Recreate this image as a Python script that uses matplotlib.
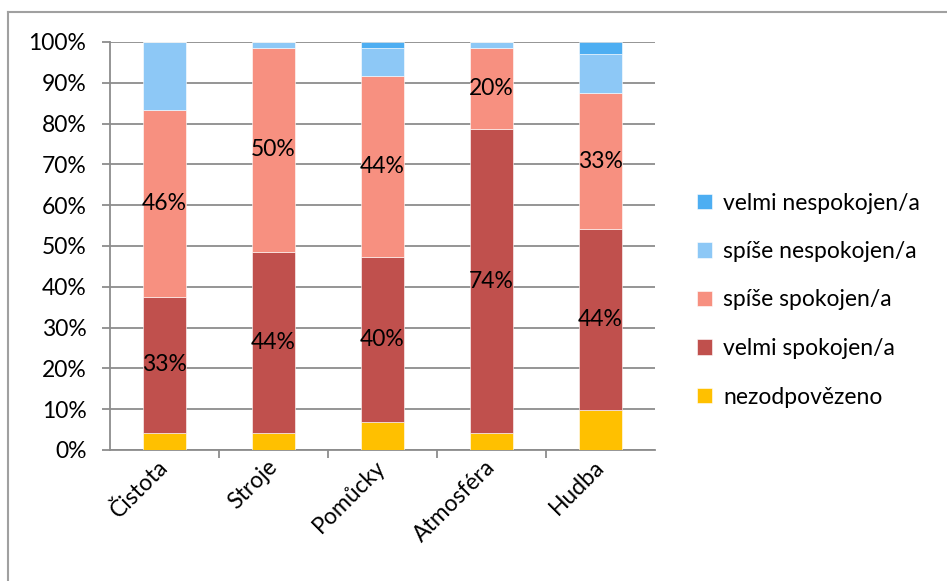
import numpy as np
import matplotlib
matplotlib.use("Agg")
import matplotlib.pyplot as plt
from matplotlib.lines import Line2D

plt.rcParams['font.family'] = ['Lato', 'DejaVu Sans']

categories = ['Čistota', 'Stroje', 'Pomůcky', 'Atmosféra', 'Hudba']
series_names = ['nezodpovězeno', 'velmi spokojen/a', 'spíše spokojen/a',
                'spíše nespokojen/a', 'velmi nespokojen/a']
nezodpovezeno = [4.2, 4.2, 6.9, 4.2, 9.7]
velmi_spokojen = [33.3, 44.4, 40.3, 74.4, 44.4]
spise_spokojen = [45.8, 50.0, 44.4, 20.0, 33.3]
spise_nespokojen = [16.7, 1.4, 6.9, 1.4, 9.7]
velmi_nespokojen = [0.0, 0.0, 1.5, 0.0, 2.9]
colors = ['#ffc000', '#c0504d', '#f79080', '#8dc8f6', '#4daef2']
labelled = [1, 2]  # series that carry value labels

data = [nezodpovezeno, velmi_spokojen, spise_spokojen, spise_nespokojen, velmi_nespokojen]
fs = 16.5

fig = plt.figure(figsize=(9.47, 5.81), dpi=100)
ax = fig.add_axes([110 / 947, 1 - 450 / 581, 545 / 947, 408 / 581])

x = np.arange(len(categories))
bottom = np.zeros(len(categories))
handles = []
for i, (name, vals) in enumerate(zip(series_names, data)):
    vals = np.array(vals)
    bars = ax.bar(x, vals, 0.4, bottom=bottom, color=colors[i],
                  edgecolor='white', linewidth=0.4, label=name, zorder=3)
    handles.append(bars)
    if i in labelled:
        for xi, v, b in zip(x, vals, bottom):
            ax.text(xi, b + v / 2, f'{v:.0f}%', ha='center', va='center',
                    fontsize=fs, color='black', zorder=4)
    bottom += vals

ax.set_xlim(-0.5, len(categories) - 0.5)
ax.set_ylim(0, 100)
ax.set_yticks(np.arange(0, 101, 10))
ax.set_yticklabels([f'{t}%' for t in range(0, 101, 10)], fontsize=fs)
ax.yaxis.grid(True, color='#8c8c8c', linewidth=1.3, zorder=0)
ax.set_axisbelow(True)

ax.set_xticks(x)
ax.set_xticklabels(categories, rotation=45, ha='right', va='center',
                   rotation_mode='anchor', fontsize=fs)
ax.tick_params(axis='x', length=0, pad=10)
ax.set_xticks(np.arange(0.5, len(categories) - 0.5, 1), minor=True)
ax.tick_params(axis='x', which='minor', length=6, color='#8c8c8c', width=1.3)
ax.tick_params(axis='y', length=6, color='#8c8c8c', width=1.3, pad=11)

for side in ['top', 'right']:
    ax.spines[side].set_visible(False)
for side in ['left', 'bottom']:
    ax.spines[side].set_color('#8c8c8c')
    ax.spines[side].set_linewidth(1.3)

leg = fig.legend(handles[::-1], series_names[::-1], loc='center left',
                 bbox_to_anchor=(676 / 947, 1 - 300 / 581), frameon=False,
                 fontsize=fs, handlelength=0.65, handleheight=0.65,
                 labelspacing=1.2, handletextpad=0.5)

# chart frame
fig.add_artist(Line2D([8 / 947, 1], [1 - 12 / 581, 1 - 12 / 581],
                      color='#a0a0a0', linewidth=1.5))
fig.add_artist(Line2D([8 / 947, 8 / 947], [0, 1 - 12 / 581],
                      color='#a0a0a0', linewidth=1.5))

fig.savefig('out.png', dpi=100)
